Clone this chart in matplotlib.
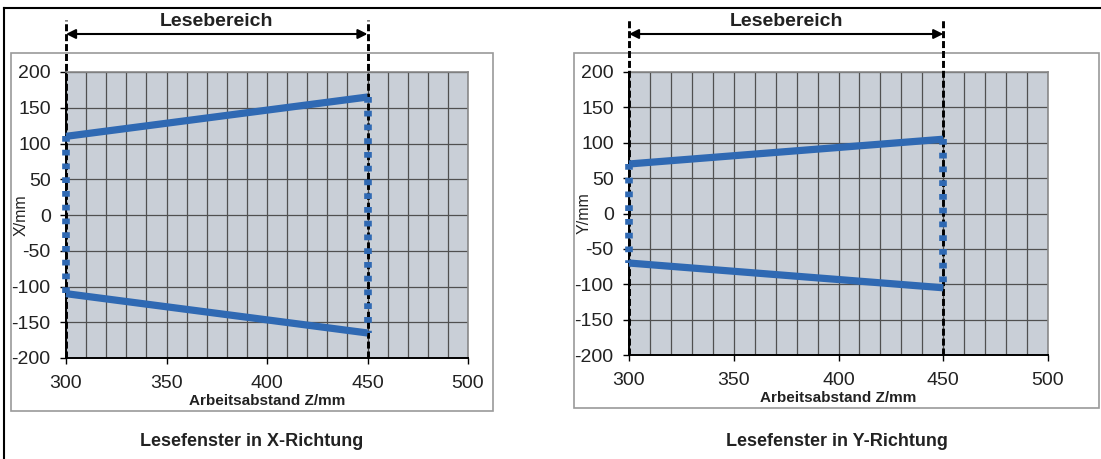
import matplotlib
matplotlib.use("Agg")
import matplotlib.pyplot as plt
from matplotlib.patches import Rectangle
from matplotlib.lines import Line2D
from matplotlib.transforms import blended_transform_factory

plt.rcParams['font.family'] = ['Liberation Sans', 'DejaVu Sans']
plt.rcParams['axes.unicode_minus'] = False

# ---- data ----
z_ends = [300, 450]
x_upper = [110, 165]
x_lower = [-110, -165]
y_upper = [70, 105]
y_lower = [-70, -105]
x_ticks = [300, 350, 400, 450, 500]
y_ticks = [-200, -150, -100, -50, 0, 50, 100, 150, 200]
range_label = "Lesebereich"
x_label = "Arbeitsabstand Z/mm"
panel_titles = ["Lesefenster in X-Richtung", "Lesefenster in Y-Richtung"]
y_labels = ["X/mm", "Y/mm"]

W, H = 1101, 459
fig = plt.figure(figsize=(W / 100, H / 100), dpi=100)

BLUE = '#2f69b3'
BG = '#c9cfd7'
GRID = '#505050'
TXT = '#222222'


def fx(px):
    return px / W


def fy(py):
    return 1 - py / H


# outer frame lines
fig.add_artist(Line2D([fx(4), fx(W)], [fy(8), fy(8)], color='black', lw=1.5))
fig.add_artist(Line2D([fx(4), fx(4)], [fy(8), fy(H)], color='black', lw=1.5))

panels = [
    dict(box=(11, 53, 493, 411), ax=(66, 72, 468, 358), upper=x_upper, lower=x_lower,
         ylabel=y_labels[0], title=panel_titles[0], ylab_x=29),
    dict(box=(574, 53, 1099, 408), ax=(629, 72, 1048, 355), upper=y_upper, lower=y_lower,
         ylabel=y_labels[1], title=panel_titles[1], ylab_x=592),
]

for p in panels:
    bx0, by0, bx1, by1 = p['box']
    fig.add_artist(Rectangle((fx(bx0), fy(by1)), fx(bx1 - bx0), (by1 - by0) / H,
                             facecolor='white', edgecolor='#9a9a9a', lw=1.2, zorder=0))
    ax0, ay0, ax1, ay1 = p['ax']
    ax = fig.add_axes([fx(ax0), fy(ay1), fx(ax1 - ax0), (ay1 - ay0) / H])
    ax.set_facecolor(BG)
    ax.set_xlim(300, 500)
    ax.set_ylim(-200, 200)
    ax.set_xticks(x_ticks)
    ax.set_yticks(y_ticks)
    ax.set_xticks(range(300, 501, 10), minor=True)
    ax.grid(True, which='both', color=GRID, lw=0.9)
    ax.set_axisbelow(True)
    ax.tick_params(axis='both', which='major', direction='out', length=4, width=1,
                   labelsize=14, colors='black', labelcolor=TXT)
    ax.tick_params(axis='y', which='major', pad=7)
    ax.tick_params(axis='x', which='major', pad=8)
    ax.tick_params(axis='x', which='minor', length=0)
    for s in ['top', 'right']:
        ax.spines[s].set_color('#8a8a8a')
        ax.spines[s].set_linewidth(1.2)
    for s in ['left', 'bottom']:
        ax.spines[s].set_color('black')
        ax.spines[s].set_linewidth(1.4)
    ax.set_xlabel(x_label, fontsize=11, fontweight='bold', labelpad=2, color=TXT)

    trans = blended_transform_factory(ax.transData, ax.transAxes)
    top_frac = 1 + (ay0 - 20) / (ay1 - ay0)
    arrow_frac = 1 + (ay0 - 34) / (ay1 - ay0)
    text_frac = 1 + (ay0 - 22) / (ay1 - ay0)
    for z in z_ends:
        ax.plot([z, z], [0, top_frac], transform=trans, color='black', lw=2.1,
                dashes=(2.4, 1.0), clip_on=False, zorder=3)
    ax.annotate('', xy=(z_ends[1], arrow_frac), xytext=(z_ends[0], arrow_frac),
                xycoords=trans, textcoords=trans,
                arrowprops=dict(arrowstyle='<|-|>', color='black', lw=1.5,
                                mutation_scale=14, shrinkA=0, shrinkB=0))
    ax.text(sum(z_ends) / 2, text_frac, range_label, transform=trans, ha='center',
            va='center', fontsize=14, fontweight='bold', color=TXT)

    # side boundaries (dotted)
    for i in range(2):
        ax.plot([z_ends[i], z_ends[i]], [p['upper'][i], p['lower'][i]], color=BLUE,
                lw=5.5, dashes=(0.75, 1.05), solid_capstyle='butt', dash_capstyle='butt',
                zorder=6, clip_on=False)
    ax.plot(z_ends, p['upper'], color=BLUE, lw=5.2, solid_capstyle='butt', zorder=5, clip_on=False)
    ax.plot(z_ends, p['lower'], color=BLUE, lw=5.2, solid_capstyle='butt', zorder=5, clip_on=False)

    ax.set_ylabel(p['ylabel'], fontsize=11.5, color=TXT)
    ax.yaxis.set_label_coords((p['ylab_x'] - ax0) / (ax1 - ax0), 0.5)

    fig.text(fx((bx0 + bx1) / 2), fy(441), p['title'], ha='center', va='center',
             fontsize=13, fontweight='bold', color=TXT)

fig.savefig('out.png', dpi=100)
